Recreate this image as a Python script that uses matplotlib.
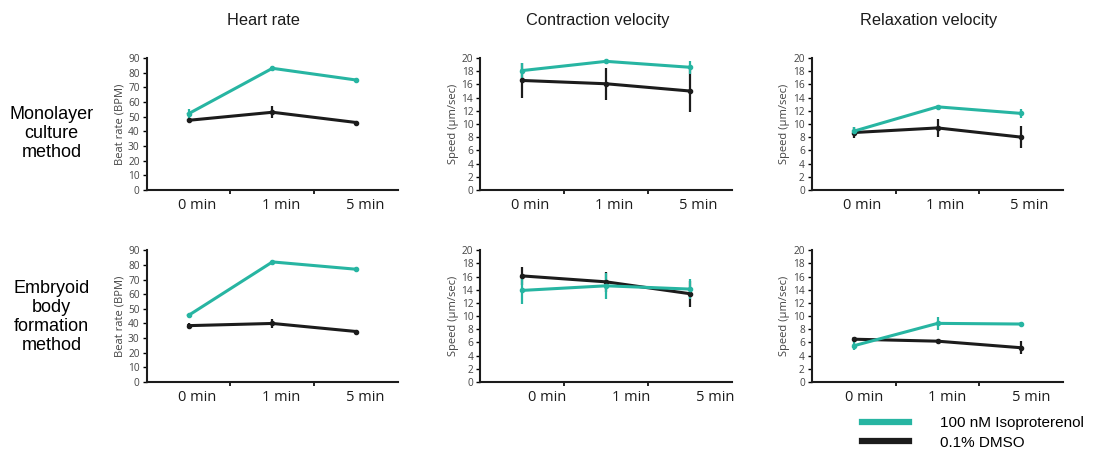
import matplotlib
matplotlib.use("Agg")
import matplotlib.pyplot as plt
import matplotlib.transforms as mtransforms
from matplotlib.lines import Line2D
import numpy as np

# time points and series
times = ["0 min", "1 min", "5 min"]
col_titles = ["Heart rate", "Contraction velocity", "Relaxation velocity"]
row_titles = ["Monolayer\nculture\nmethod", "Embryoid\nbody\nformation\nmethod"]
series_names = ["100 nM Isoproterenol", "0.1% DMSO"]

# monolayer
mono_hr_iso = [52, 83, 75]
mono_hr_iso_err = [3.0, 1.0, 1.0]
mono_hr_dmso = [47.5, 53, 46]
mono_hr_dmso_err = [1.0, 4.0, 0.5]
mono_cv_iso = [18.1, 19.5, 18.6]
mono_cv_iso_err = [1.2, 0.4, 1.0]
mono_cv_dmso = [16.6, 16.1, 15.0]
mono_cv_dmso_err = [2.6, 2.4, 3.2]
mono_rv_iso = [8.9, 12.6, 11.6]
mono_rv_iso_err = [0.6, 0.3, 0.7]
mono_rv_dmso = [8.7, 9.4, 8.0]
mono_rv_dmso_err = [0.9, 1.4, 1.7]

# embryoid body
eb_hr_iso = [45.5, 82, 77]
eb_hr_iso_err = [0.5, 0.5, 0.5]
eb_hr_dmso = [38.5, 40, 34.5]
eb_hr_dmso_err = [2.0, 3.0, 1.0]
eb_cv_iso = [13.9, 14.6, 14.1]
eb_cv_iso_err = [2.0, 2.0, 1.5]
eb_cv_dmso = [16.1, 15.2, 13.4]
eb_cv_dmso_err = [1.4, 1.5, 2.0]
eb_rv_iso = [5.5, 8.9, 8.8]
eb_rv_iso_err = [0.7, 1.0, 0.3]
eb_rv_dmso = [6.5, 6.2, 5.2]
eb_rv_dmso_err = [0.3, 0.4, 1.0]

TEAL = "#27b5a2"
BLACK = "#1c1c1c"
GRAY = "#444444"

panels = [
    [(mono_hr_iso, mono_hr_iso_err, mono_hr_dmso, mono_hr_dmso_err),
     (mono_cv_iso, mono_cv_iso_err, mono_cv_dmso, mono_cv_dmso_err),
     (mono_rv_iso, mono_rv_iso_err, mono_rv_dmso, mono_rv_dmso_err)],
    [(eb_hr_iso, eb_hr_iso_err, eb_hr_dmso, eb_hr_dmso_err),
     (eb_cv_iso, eb_cv_iso_err, eb_cv_dmso, eb_cv_dmso_err),
     (eb_rv_iso, eb_rv_iso_err, eb_rv_dmso, eb_rv_dmso_err)],
]

# label shift (px) of x tick labels relative to points, per panel
label_shift = [[9, 8, 8], [9, 25, 10]]

fig = plt.figure(figsize=(10.94, 4.5), dpi=100)

lefts = [0.134, 0.439, 0.742]
bottoms = [0.578, 0.151]
w, h = 0.230, 0.293

x = np.arange(len(times))

for r in range(2):
    for c in range(3):
        ax = fig.add_axes([lefts[c], bottoms[r], w, h])
        iso, iso_err, dmso, dmso_err = panels[r][c]
        ax.errorbar(x, dmso, yerr=dmso_err, color=BLACK, lw=2.2, elinewidth=1.6,
                    capsize=0, marker="o", ms=3)
        ax.errorbar(x, iso, yerr=iso_err, color=TEAL, lw=2.2, elinewidth=1.6,
                    capsize=0, marker="o", ms=3)
        ax.set_xlim(-0.5, 2.5)
        if c == 0:
            ax.set_ylim(0, 90)
            ax.set_yticks(np.arange(0, 91, 10))
            ax.set_ylabel("Beat rate (BPM)", fontsize=8, family="Open Sans", color=GRAY)
        else:
            ax.set_ylim(0, 20)
            ax.set_yticks(np.arange(0, 21, 2))
            ax.set_ylabel("Speed (\u03bcm/sec)", fontsize=8, family="Open Sans", color=GRAY)
        ax.set_xticks([0.5, 1.5])
        ax.set_xticklabels([])
        ax.tick_params(axis="x", length=3, width=1.2, direction="out")
        ax.tick_params(axis="y", length=3, width=1.0, labelsize=7.3, labelcolor=GRAY, pad=2)
        for lab in ax.get_yticklabels():
            lab.set_family("Open Sans")
        for s in ["top", "right"]:
            ax.spines[s].set_visible(False)
        for s in ["left", "bottom"]:
            ax.spines[s].set_linewidth(1.5)
            ax.spines[s].set_color(BLACK)
        ax.yaxis.labelpad = 2
        trans = ax.get_xaxis_transform() + mtransforms.ScaledTranslation(
            label_shift[r][c] / 100, 0, fig.dpi_scale_trans)
        for i, t in enumerate(times):
            ax.text(x[i], -0.06, t, transform=trans, ha="center", va="top",
                    fontsize=10.5, family="Open Sans", color=BLACK)
        if r == 0:
            fig.text(lefts[c] + w / 2 - 0.008, 0.955, col_titles[c], ha="center", va="center",
                     fontsize=11.8, family="Liberation Sans", color=BLACK)

fig.text(0.047, 0.704, row_titles[0], ha="center", va="center", fontsize=13,
         family="Liberation Sans", linespacing=1.15)
fig.text(0.047, 0.295, row_titles[1], ha="center", va="center", fontsize=13,
         family="Liberation Sans", linespacing=1.15)

# legend
handles = [Line2D([0], [0], color=TEAL, lw=4.5), Line2D([0], [0], color=BLACK, lw=4.5)]
fig.legend(handles, series_names, loc="center left", bbox_to_anchor=(0.775, 0.038),
           frameon=False, handlelength=3.1, handletextpad=2.0, labelspacing=0.35,
           prop={"family": "Liberation Sans", "size": 11})

fig.savefig("out.png", dpi=100)
